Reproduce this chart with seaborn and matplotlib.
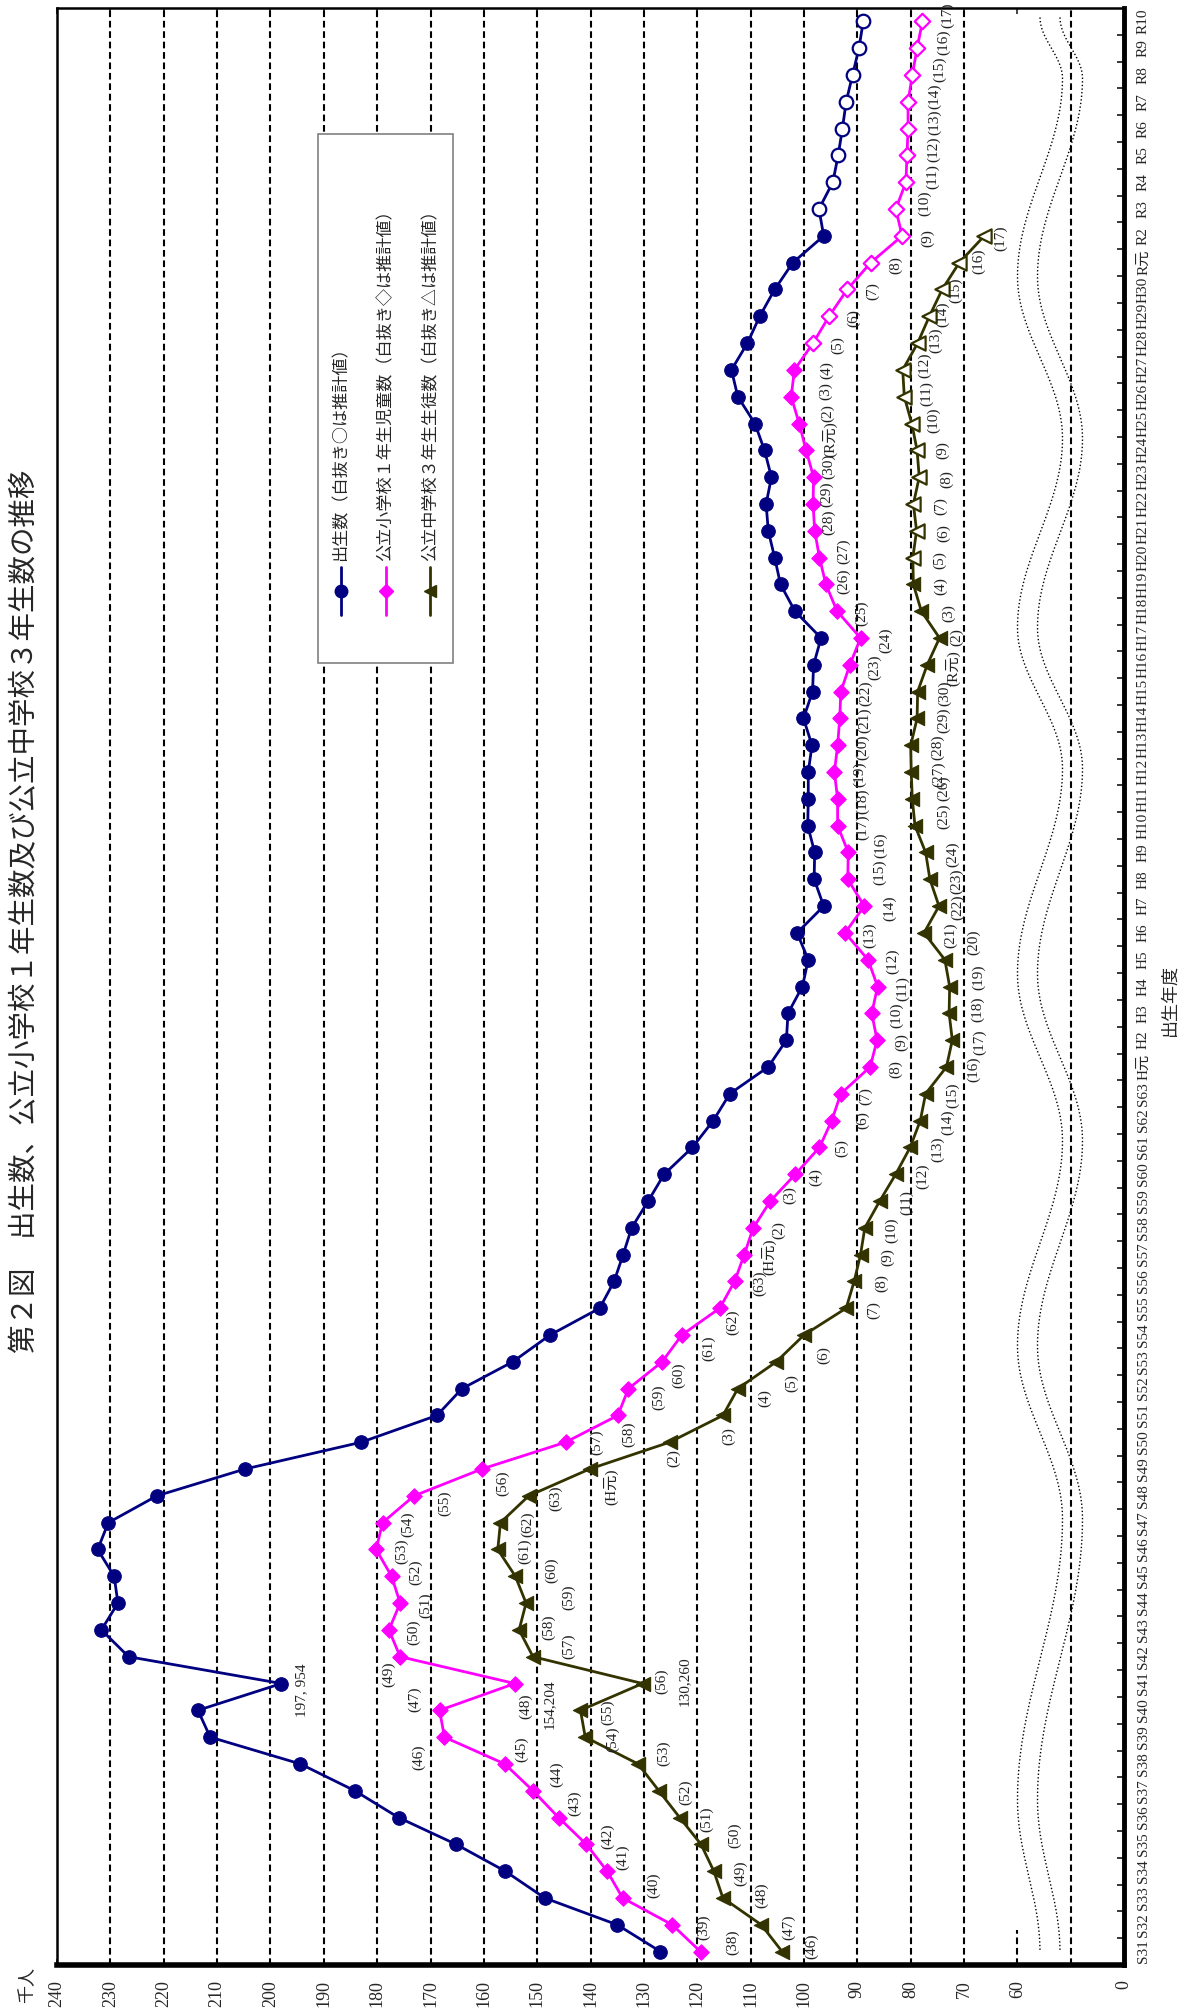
import numpy as np
import pandas as pd
import matplotlib
matplotlib.use("Agg")
import matplotlib.pyplot as plt
from matplotlib.patches import Rectangle
from matplotlib.lines import Line2D
import seaborn as sns

W, H = 1184, 2011

# --- data (thousands), one value per birth fiscal year S31 .. R10 ---
YEAR_LABELS = ("S31 S32 S33 S34 S35 S36 S37 S38 S39 S40 S41 S42 S43 S44 S45 S46 S47 S48 S49 S50 "
               "S51 S52 S53 S54 S55 S56 S57 S58 S59 S60 S61 S62 S63 H元 H2 H3 H4 H5 H6 H7 H8 H9 H10 "
               "H11 H12 H13 H14 H15 H16 H17 H18 H19 H20 H21 H22 H23 H24 H25 H26 H27 H28 H29 H30 "
               "R元 R2 R3 R4 R5 R6 R7 R8 R9 R10").split()

births = [126.9, 135.0, 148.6, 156.0, 165.2, 176.0, 184.2, 194.4, 211.3, 213.6,
          197.954, 226.6, 231.7, 228.6, 229.3, 232.4, 230.4, 221.3, 204.8, 183.0,
          168.8, 164.1, 154.6, 147.6, 138.3, 135.6, 133.9, 132.3, 129.2, 126.2,
          120.9, 117.0, 113.9, 106.7, 103.3, 103.0, 100.3, 99.2, 101.3, 96.3,
          98.1, 98.0, 99.3, 99.2, 99.2, 98.5, 100.1, 98.4, 98.2, 96.8,
          101.7, 104.4, 105.5, 106.7, 107.1, 106.1, 107.4, 109.2, 112.4, 113.6,
          110.6, 108.3, 105.5, 102.1, 96.3, 97.2, 94.6, 93.6, 92.8, 92.1,
          90.9, 89.7, 88.9]

elementary = [119.4, 124.7, 134.0, 136.9, 140.8, 146.0, 150.8, 156.1, 167.4, 168.3,
              154.204, 175.7, 177.8, 175.7, 177.3, 180.2, 179.0, 173.1, 160.4, 144.7,
              134.9, 132.9, 126.6, 122.9, 115.8, 113.0, 111.2, 109.5, 106.3, 101.6,
              97.1, 94.8, 93.1, 87.6, 86.3, 87.3, 86.2, 88.0, 92.3, 88.7,
              91.8, 91.7, 93.7, 93.7, 94.3, 93.7, 93.3, 93.1, 91.4, 89.4,
              93.8, 95.9, 97.1, 98.0, 98.3, 98.2, 99.6, 100.9, 102.4, 101.8,
              98.3, 95.3, 91.9, 87.5, 81.6, 82.8, 80.9, 80.7, 80.5, 80.5,
              79.7, 78.8, 77.8]

junior_high = [104.1, 108.0, 115.2, 116.9, 119.3, 123.3, 127.2, 131.1, 141.0, 141.9,
               130.26, 150.8, 153.4, 152.1, 154.1, 157.4, 156.9, 151.6, 140.2, 125.2,
               115.2, 112.4, 105.2, 100.0, 92.1, 90.6, 89.4, 88.6, 85.8, 82.8,
               80.1, 78.2, 77.2, 73.3, 72.2, 72.8, 72.7, 73.6, 77.5, 74.7,
               76.4, 77.2, 79.2, 79.7, 79.9, 80.0, 78.8, 78.7, 76.9, 74.6,
               78.0, 79.5, 79.6, 78.9, 79.5, 78.4, 78.8, 79.8, 81.2, 81.5,
               78.7, 76.5, 74.1, 70.9, 66.2]

# first index drawn with an open (estimated) marker
births_est_from = 65
elementary_est_from = 60
junior_est_from = 52

# school year of each cohort
elementary_labels = ("(38) (39) (40) (41) (42) (43) (44) (45) (46) (47) (48) (49) (50) (51) (52) "
                     "(53) (54) (55) (56) (57) (58) (59) (60) (61) (62) (63) (H元) (2) (3) (4) (5) "
                     "(6) (7) (8) (9) (10) (11) (12) (13) (14) (15) (16) (17) (18) (19) (20) (21) "
                     "(22) (23) (24) (25) (26) (27) (28) (29) (30) (R元) (2) (3) (4) (5) (6) (7) "
                     "(8) (9) (10) (11) (12) (13) (14) (15) (16) (17)").split()
junior_labels = ("(46) (47) (48) (49) (50) (51) (52) (53) (54) (55) (56) (57) (58) (59) (60) "
                 "(61) (62) (63) (H元) (2) (3) (4) (5) (6) (7) (8) (9) (10) (11) (12) (13) (14) "
                 "(15) (16) (17) (18) (19) (20) (21) (22) (23) (24) (25) (26) (27) (28) (29) "
                 "(30) (R元) (2) (3) (4) (5) (6) (7) (8) (9) (10) (11) (12) (13) (14) (15) "
                 "(16) (17)").split()

LEGEND_TEXTS = ["出生数（白抜き○は推計値）",
                "公立小学校１年生児童数（白抜き◇は推計値）",
                "公立中学校３年生生徒数（白抜き△は推計値）"]
TITLE = "第２図　出生数、公立小学校１年生数及び公立中学校３年生数の推移"

VALUE_TICKS = [40] + list(range(60, 241, 10))
VALUE_TICK_LABELS = ["0"] + [str(v) for v in range(60, 241, 10)]

# --- styling ---
NAVY = "#000080"
MAGENTA = "#FF00FF"
OLIVE = "#333300"
SERIF = ["Liberation Serif", "Noto Sans CJK JP"]
GOTHIC = ["Noto Sans CJK JP", "DejaVu Sans"]

# label offsets in image pixels (dx to the right, dy downward)
elem_default = (25, 2)
elem_offsets = {0: (32, -9), 1: (31, 2), 2: (31, -13), 3: (15, -14), 4: (21, -8),
                5: (16, -14), 6: (24, -16), 7: (17, -15), 8: (-26, 20), 9: (-25, -11),
                10: (11, 23), 11: (-12, 18), 14: (24, -4), 17: (31, 7), 18: (21, 14),
                19: (31, 0), 20: (11, 19), 21: (30, 9), 22: (17, 13), 23: (27, 13),
                24: (13, 14), 28: (19, -6), 29: (20, 3), 30: (22, 1), 31: (31, 0),
                40: (32, -7), 41: (32, -7), 51: (18, -3), 52: (24, -6), 53: (14, -9),
                54: (14, -10), 55: (15, -11), 56: (24, -11), 57: (28, -10), 58: (34, -6),
                59: (32, 0), 65: (29, -6), 66: (27, -6), 67: (27, -6), 68: (27, -6),
                69: (27, -6), 70: (27, -6), 71: (27, -6), 72: (25, -6)}
junior_default = (27, 2)
junior_offsets = {0: (30, -5), 2: (39, -3), 4: (34, -9), 7: (26, -11), 10: (19, -2),
                  11: (36, -10), 12: (30, -3), 13: (43, -6), 14: (36, -6), 18: (21, 18),
                  19: (4, 16), 20: (6, 21), 21: (27, 9), 22: (15, 21), 23: (20, 20),
                  35: (29, -4), 36: (29, -9), 37: (29, -17), 39: (19, 1), 42: (29, -9),
                  43: (31, -11), 48: (26, 3), 49: (17, -1), 56: (26, 0), 57: (22, -3),
                  58: (22, -3), 59: (22, -5), 60: (18, -3), 61: (13, -2), 62: (13, 1),
                  63: (19, -1), 64: (16, 2)}

sns.set_theme(style="ticks")
plt.rcParams["font.family"] = SERIF
plt.rcParams["axes.unicode_minus"] = False

fig = plt.figure(figsize=(W / 100, H / 100), dpi=100)
fig.patch.set_facecolor("white")

X0, X1, Y_TOP, Y_BOT = 57.1, 1124.1, 8.0, 1965.0
ax = fig.add_axes([X0 / W, 1 - Y_BOT / H, (X1 - X0) / W, (Y_BOT - Y_TOP) / H])
ax.set_facecolor("white")
ax.set_xlim(240, 40)
ax.set_ylim(-0.5, 72.5)

# gridlines
grid_kw = dict(color="black", lw=1.5, linestyle=(0, (3.2, 1.8)), zorder=1)
for v in [50] + list(range(70, 240, 10)):
    ax.axvline(v, **grid_kw)
ax.plot([60, 60], [-0.5, 0.8], **grid_kw)

# axis break: two dotted waves
def px_to_data(xp, yp):
    return 240 - (np.asarray(xp) - X0) / 5.335, (1951.6 - np.asarray(yp)) / 26.8

extrema = [(18, 0), (79, 1), (277, -1), (439, 1), (628, -1), (769, 1), (974, -1),
           (1141, 1), (1346, -1), (1519, 1), (1800, -1), (1952, 0)]
wy, wl = [], []
for (ya, la), (yb, lb) in zip(extrema[:-1], extrema[1:]):
    t = np.linspace(0, 1, 40)
    wy.append(ya + (yb - ya) * t)
    wl.append(la + (lb - la) * (1 - np.cos(np.pi * t)) / 2)
wy, wl = np.concatenate(wy), np.concatenate(wl)
for xc in (1040, 1060):
    vx, vy = px_to_data(xc + 22.5 * wl, wy)
    ax.plot(vx, vy, color="black", lw=1.0, linestyle=(0, (1, 1.6)), zorder=1)

# series
pos = np.arange(len(YEAR_LABELS))
series = [
    (births, births_est_from, NAVY, "o", 95),
    (elementary, elementary_est_from, MAGENTA, "D", 62),
    (junior_high, junior_est_from, OLIVE, "<", 105),
]
for vals, est, color, marker, size in series:
    p = pos[:len(vals)]
    df = pd.DataFrame({"value": vals, "pos": p})
    sns.lineplot(data=df, x="value", y="pos", sort=False, estimator=None,
                 color=color, lw=2.0, ax=ax, zorder=2)
    sns.scatterplot(data=df.iloc[:est], x="value", y="pos", marker=marker, s=size,
                    color=color, edgecolor=color, linewidth=0.8, ax=ax, zorder=3)
    sns.scatterplot(data=df.iloc[est:], x="value", y="pos", marker=marker, s=size,
                    facecolor="white", edgecolor=color, linewidth=1.6, ax=ax, zorder=3)

# cohort labels
def put_label(text, v, p, off):
    dx, dy = off
    ax.annotate(text, (v, p), xytext=(dx, -dy), textcoords="offset pixels",
                rotation=90, ha="center", va="center", fontsize=11,
                family=SERIF, color="#222222", zorder=4)

for i, lab in enumerate(elementary_labels):
    put_label(lab, elementary[i], i, elem_offsets.get(i, elem_default))
for i, lab in enumerate(junior_labels):
    put_label(lab, junior_high[i], i, junior_offsets.get(i, junior_default))
put_label("197, 954", births[10], 10, (20, 7))
put_label("154,204", elementary[10], 10, (35, 21))
put_label("130,260", junior_high[10], 10, (42, -2))

# axes, ticks (pads are in points: 1 pt = 1.39 px here)
ax.set_xticks(VALUE_TICKS, VALUE_TICK_LABELS)
ax.tick_params(axis="x", which="major", direction="in", length=4, width=1.2,
               top=True, bottom=True, labelrotation=90, labelsize=13, pad=11)
ax.set_yticks(pos, YEAR_LABELS)
ax.yaxis.tick_right()
ax.tick_params(axis="y", which="major", length=0, pad=9, labelrotation=90,
               labelsize=11, right=True, left=False)
for t in ax.get_yticklabels():
    t.set_verticalalignment("center")
ax.set_yticks(np.arange(0.5, 72, 1), minor=True)
ax.tick_params(axis="y", which="minor", direction="in", length=5, width=1.3,
               right=True, left=False)
ax.set_xlabel("")
ax.set_ylabel("")
for side, lw in (("left", 1.8), ("top", 1.8), ("bottom", 4.0), ("right", 3.5)):
    ax.spines[side].set_visible(True)
    ax.spines[side].set_linewidth(lw)
    ax.spines[side].set_color("black")

# legend (drawn by hand, rotated like the rest of the page)
def fx(px):
    return px / W

def fy(py):
    return 1 - py / H

ax.add_patch(Rectangle((fx(318.3), fy(662.6)), fx(452.9) - fx(318.3), fy(134.4) - fy(662.6),
                       transform=fig.transFigure, facecolor="white", edgecolor="#808080",
                       lw=1.2, zorder=5, clip_on=False))
for xp, (vals, est, color, marker, size), text in zip((340.5, 385.7, 430.3), series, LEGEND_TEXTS):
    fig.add_artist(Line2D([fx(xp), fx(xp)], [fy(615), fy(567)], color=color, lw=2.0,
                          marker=None, zorder=6))
    fig.add_artist(Line2D([fx(xp)], [fy(591)], color=color, marker=marker,
                          markersize=9 if marker != "D" else 7.5, zorder=7))
    fig.text(fx(xp), fy(561), text, rotation=90, ha="center", va="bottom",
             fontsize=12.3, family=GOTHIC, zorder=7)

fig.text(fx(25), fy(1353), TITLE, rotation=90, ha="center", va="bottom",
         fontsize=20.5, family=GOTHIC)
fig.text(fx(27), fy(1985), "千人", rotation=90, ha="center", va="center",
         fontsize=13, family=GOTHIC)
fig.text(fx(1170), fy(1000), "出生年度", rotation=90, ha="center", va="center",
         fontsize=13, family=GOTHIC)

fig.savefig("out.png", dpi=100, facecolor="white")
